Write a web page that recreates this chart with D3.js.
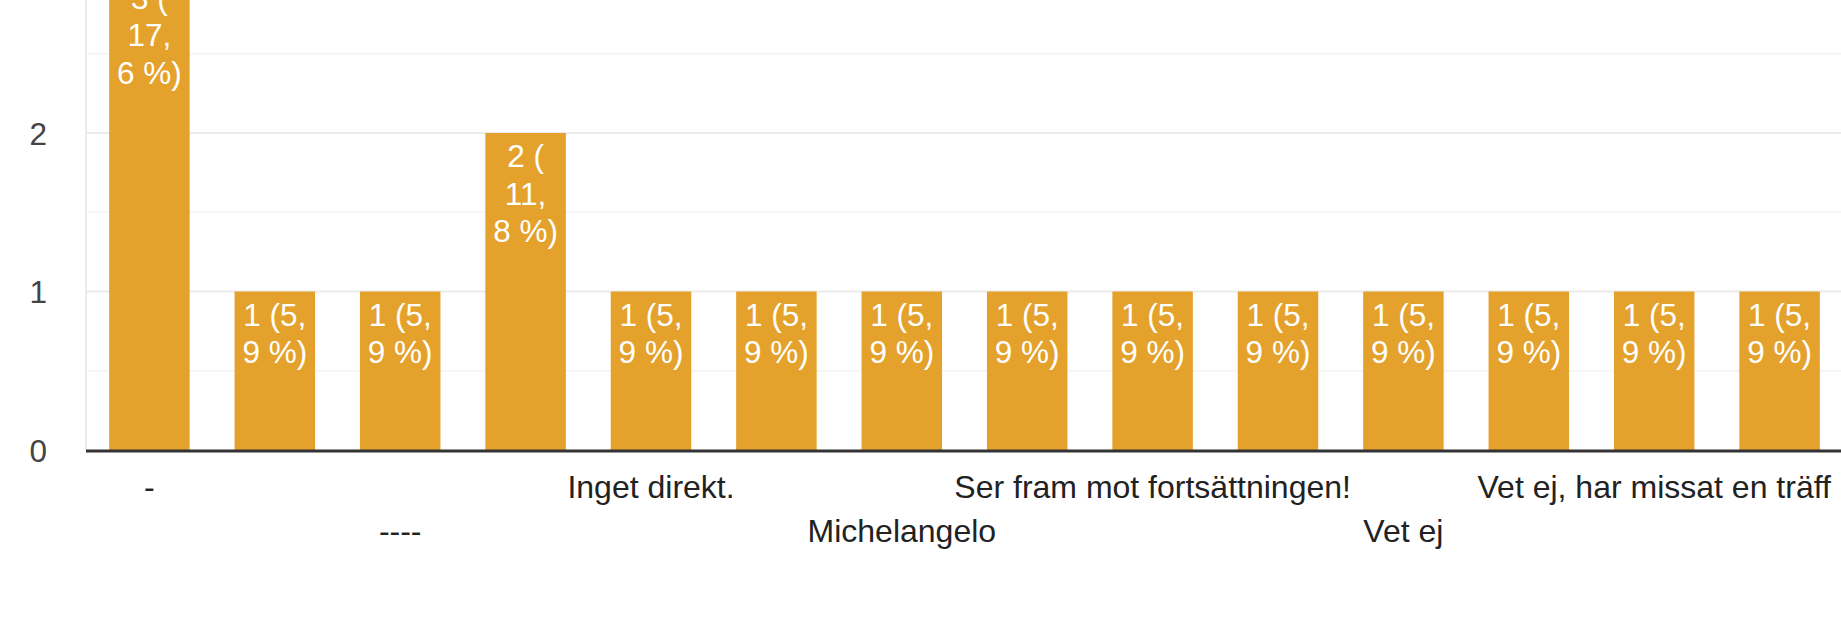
<!DOCTYPE html>
<html>
<head>
<meta charset="utf-8">
<script src="https://cdn.jsdelivr.net/npm/d3@7"></script>
<style>
  html, body { margin: 0; padding: 0; background: #fff; overflow: hidden; }
  svg { display: block; }
  text { font-family: "Liberation Sans", Arial, sans-serif; }
</style>
</head>
<body>
<svg id="chart" width="1841" height="627"></svg>
<script>
// ---- data ----
// Category labels; the odd-indexed ones are hidden (auto-skipped) in the reference, so they are unknown (null).
const categories = ["-", null, "----", null, "Inget direkt.", null, "Michelangelo", null,
                    "Ser fram mot fortsättningen!", null, "Vet ej", null, "Vet ej, har missat en träff", null];
const counts = [3, 1, 1, 2, 1, 1, 1, 1, 1, 1, 1, 1, 1, 1];
const yTickValues = [0, 1, 2];
const yGridMinor = [0.5, 1.5, 2.5];
const yGridMajor = [1, 2, 3];

const W = 1841, H = 627;
const svg = d3.select("#chart");

const total = d3.sum(counts);
const idx = d3.range(counts.length);

const x = d3.scaleBand()
  .domain(idx)
  .range([86.7, 1842.3])
  .paddingInner(0.358)
  .paddingOuter(0.179);

const y = d3.scaleLinear()
  .domain([0, 1])
  .range([450, 291.5]);

// gridlines
svg.append("g").selectAll("line").data(yGridMinor).join("line")
  .attr("x1", 87).attr("x2", W)
  .attr("y1", d => y(d)).attr("y2", d => y(d))
  .attr("stroke", "#f3f3f3").attr("stroke-width", 1.6);
svg.append("g").selectAll("line").data(yGridMajor).join("line")
  .attr("x1", 87).attr("x2", W)
  .attr("y1", d => y(d)).attr("y2", d => y(d))
  .attr("stroke", "#ebebeb").attr("stroke-width", 2);

// left vertical axis line
svg.append("line")
  .attr("x1", 86).attr("x2", 86)
  .attr("y1", y(3.5)).attr("y2", y(0))
  .attr("stroke", "#ebebeb").attr("stroke-width", 2);

// bars
const bw = x.bandwidth();
svg.append("g").selectAll("rect").data(idx).join("rect")
  .attr("x", i => x(i))
  .attr("y", i => y(counts[i]))
  .attr("width", bw)
  .attr("height", i => y(0) - y(counts[i]))
  .attr("fill", "#e4a22c");

// baseline
svg.append("line")
  .attr("x1", 86).attr("x2", W)
  .attr("y1", y(0) + 1).attr("y2", y(0) + 1)
  .attr("stroke", "#333").attr("stroke-width", 3);

// data labels (wrapped inside bars)
const labelFs = 31.5;
const fmtPct = v => d3.format(".1f")(v).replace(".", ",");
const measure = svg.append("text").attr("font-size", labelFs).attr("visibility", "hidden");
const textW = s => { measure.text(s); return measure.node().getComputedTextLength(); };
const maxW = bw - 8;

const labelG = svg.append("g");
idx.forEach(i => {
  const pct = fmtPct(counts[i] / total * 100);
  const parts = pct.split(",");
  const segs = [counts[i] + " (", parts[0] + ",", parts[1] + " %)"];
  const lines = [];
  let cur = "";
  segs.forEach(s => {
    if (cur === "") cur = s;
    else if (textW(cur + s) <= maxW) cur = cur + s;
    else { lines.push(cur); cur = s; }
  });
  if (cur) lines.push(cur);
  const t = labelG.append("text")
    .attr("text-anchor", "middle")
    .attr("font-size", labelFs)
    .attr("fill", "#fff");
  lines.forEach((ln, k) => {
    t.append("tspan")
      .attr("x", x(i) + bw / 2)
      .attr("y", y(counts[i]) + 34 + k * 37.5)
      .text(ln.trim());
  });
});
measure.remove();

// y axis
const yAxis = svg.append("g")
  .attr("transform", "translate(47,0)")
  .call(d3.axisLeft(y).tickValues(yTickValues).tickSize(0).tickPadding(0).tickFormat(d3.format("d")));
yAxis.select(".domain").remove();
yAxis.selectAll("text")
  .attr("font-size", 31.5)
  .attr("font-family", "Liberation Sans, Arial, sans-serif")
  .attr("fill", "#444")
  .attr("dy", "0.35em");

// x axis (every other label shown, alternating rows)
const xAxis = svg.append("g")
  .attr("transform", `translate(0,${y(0)})`)
  .call(d3.axisBottom(x).tickSize(0).tickFormat(i => categories[i] || ""));
xAxis.select(".domain").remove();
xAxis.selectAll("text")
  .attr("font-size", 32)
  .attr("font-family", "Liberation Sans, Arial, sans-serif")
  .attr("fill", "#222")
  .attr("dy", null)
  .attr("y", i => (Math.floor(i / 2) % 2 === 0) ? 48 : 92);
</script>
</body>
</html>
